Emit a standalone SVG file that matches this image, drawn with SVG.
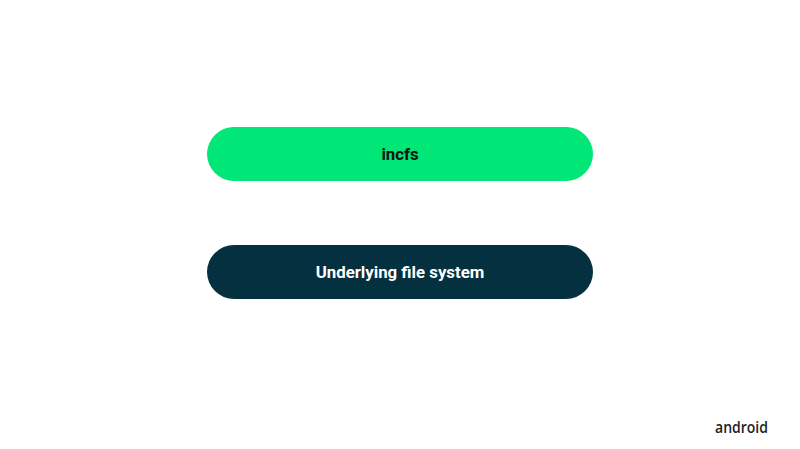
<svg xmlns="http://www.w3.org/2000/svg" width="800" height="449" viewBox="0 0 800 449">
<style>
.pill-text{font-family:Roboto,"Liberation Sans",sans-serif;font-weight:700;font-size:16.8px;text-anchor:middle}
.logo{font-family:"Open Sans",Roboto,sans-serif;font-weight:600;font-size:16px;fill:#1f1f1f}
</style>
<rect width="800" height="449" fill="#ffffff"/>
<g id="connectors"></g>
<g id="incfs">
<rect x="207" y="127" width="386" height="54" rx="27" fill="#00e677"/>
<text class="pill-text" x="400" y="160" fill="#111111">incfs</text>
</g>
<g id="underlying">
<rect x="207" y="245" width="386" height="54" rx="27" fill="#04303f"/>
<text class="pill-text" x="400" y="278" fill="#ffffff">Underlying file system</text>
</g>
<g id="logo">
<text class="logo" x="715" y="433" textLength="53" lengthAdjust="spacingAndGlyphs">android</text>
</g>
</svg>
